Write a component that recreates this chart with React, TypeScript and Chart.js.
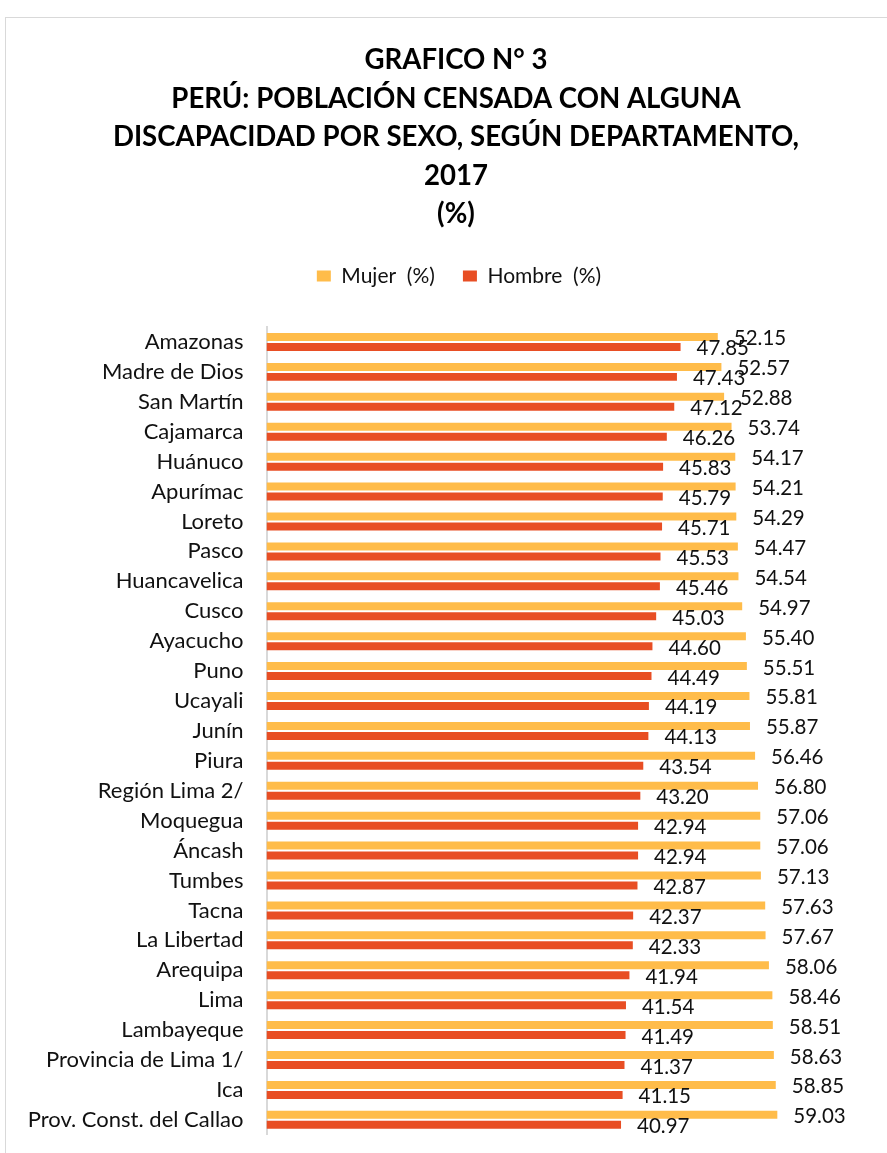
import React, { useEffect, useRef } from "react";
import { Chart, registerables } from "chart.js";

Chart.register(...registerables);

const categories = [
  "Amazonas",
  "Madre de Dios",
  "San Martín",
  "Cajamarca",
  "Huánuco",
  "Apurímac",
  "Loreto",
  "Pasco",
  "Huancavelica",
  "Cusco",
  "Ayacucho",
  "Puno",
  "Ucayali",
  "Junín",
  "Piura",
  "Región Lima 2/",
  "Moquegua",
  "Áncash",
  "Tumbes",
  "Tacna",
  "La Libertad",
  "Arequipa",
  "Lima",
  "Lambayeque",
  "Provincia de Lima 1/",
  "Ica",
  "Prov. Const. del Callao",
];

const mujer = [
  52.15, 52.57, 52.88, 53.74, 54.17, 54.21, 54.29, 54.47, 54.54, 54.97, 55.4,
  55.51, 55.81, 55.87, 56.46, 56.8, 57.06, 57.06, 57.13, 57.63, 57.67, 58.06,
  58.46, 58.51, 58.63, 58.85, 59.03,
];

const hombre = [
  47.85, 47.43, 47.12, 46.26, 45.83, 45.79, 45.71, 45.53, 45.46, 45.03, 44.6,
  44.49, 44.19, 44.13, 43.54, 43.2, 42.94, 42.94, 42.87, 42.37, 42.33, 41.94,
  41.54, 41.49, 41.37, 41.15, 40.97,
];

const seriesLabels = ["Mujer  (%)", "Hombre  (%)"];

const titleLines = [
  "GRAFICO N° 3",
  "PERÚ: POBLACIÓN CENSADA CON ALGUNA",
  "DISCAPACIDAD POR SEXO, SEGÚN DEPARTAMENTO,",
  "2017",
  "(%)",
];

const FONT = "Lato";
const TITLE_SIZE = 27.6;
const X_MAX = 73.9;

const valueLabelPlugin = {
  id: "valueLabels",
  afterDatasetsDraw(chart: any) {
    const ctx = chart.ctx;
    ctx.save();
    ctx.font = `20.5px ${FONT}`;
    ctx.fillStyle = "#111111";
    ctx.textAlign = "left";
    ctx.textBaseline = "alphabetic";
    chart.data.datasets.forEach((ds: any, i: number) => {
      const meta = chart.getDatasetMeta(i);
      meta.data.forEach((bar: any, j: number) => {
        const v = ds.data[j] as number;
        ctx.fillText(v.toFixed(2), bar.x + 16, bar.y + 8.5);
      });
    });
    ctx.restore();
  },
};

const legendShiftPlugin = {
  id: "legendShift",
  beforeDraw(chart: any) {
    const lg = chart.legend;
    if (lg && !lg._shifted) {
      lg.left += 3;
      lg.right += 3;
      lg._shifted = true;
    }
  },
};

function BarChart() {
  const ref = useRef<HTMLCanvasElement | null>(null);

  useEffect(() => {
    if (!ref.current) return;
    const chart = new Chart(ref.current, {
      type: "bar",
      data: {
        labels: categories,
        datasets: [
          {
            label: seriesLabels[0],
            data: mujer,
            backgroundColor: "#FFBC4A",
            borderWidth: 0,
            categoryPercentage: 0.668,
            barPercentage: 0.8,
          },
          {
            label: seriesLabels[1],
            data: hombre,
            backgroundColor: "#E84E24",
            borderWidth: 0,
            categoryPercentage: 0.668,
            barPercentage: 0.8,
          },
        ],
      },
      options: {
        indexAxis: "y",
        responsive: false,
        animation: false,
        events: [],
        layout: { padding: { left: 0, right: 0, top: 0, bottom: 36.2 } },
        scales: {
          x: {
            position: "top",
            min: 0,
            max: X_MAX,
            display: true,
            ticks: { display: false },
            grid: { display: false },
            border: { display: false },
            afterFit(scale: any) {
              scale.height = 30.5;
            },
          },
          y: {
            grid: { display: false, drawTicks: false },
            border: { display: true, color: "#D9D9D9", width: 2 },
            ticks: {
              font: { family: FONT, size: 22 },
              color: "#111111",
              padding: 23,
              autoSkip: false,
            },
            afterFit(scale: any) {
              scale.width = 260.5;
            },
          },
        },
        plugins: {
          tooltip: { enabled: false },
          title: {
            display: true,
            text: titleLines,
            color: "#000000",
            font: {
              family: FONT,
              size: TITLE_SIZE,
              weight: "bold",
              lineHeight: 38.5 / TITLE_SIZE,
            },
            padding: { top: 23, bottom: 4 },
          },
          legend: {
            display: true,
            position: "top",
            labels: {
              font: { family: FONT, size: 21 },
              color: "#111111",
              boxWidth: 14,
              boxHeight: 11,
              padding: 28,
            },
          },
        },
      },
      plugins: [legendShiftPlugin, valueLabelPlugin],
    } as any);
    return () => chart.destroy();
  }, []);

  return (
    <canvas
      ref={ref}
      width={900}
      height={1153}
      style={{ display: "block", width: 900, height: 1153 }}
    />
  );
}

export default function App() {
  return (
    <div
      style={{
        position: "fixed",
        left: 0,
        top: 0,
        width: 887,
        height: 1153,
        overflow: "hidden",
        background: "#ffffff",
      }}
    >
      <div
        style={{
          position: "absolute",
          left: 5,
          top: 17,
          width: 900,
          height: 1200,
          border: "1px solid #D9D9D9",
          background: "#ffffff",
        }}
      >
        <BarChart />
      </div>
    </div>
  );
}
